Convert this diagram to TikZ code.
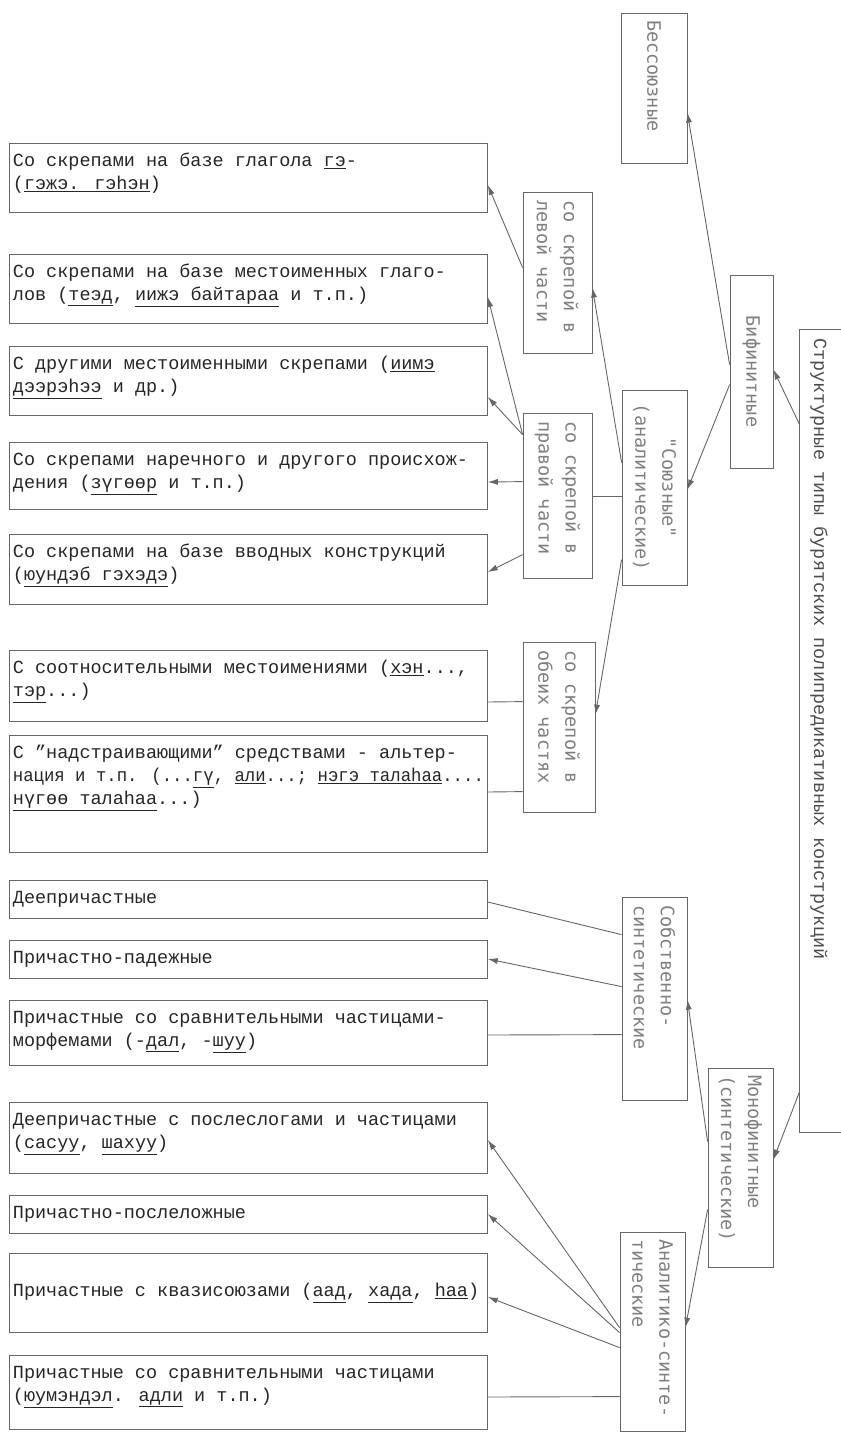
\documentclass[tikz,border=0pt]{standalone}
\usepackage{fontspec}
\usepackage{graphicx}
\setmainfont{Liberation Mono}
\newfontfamily\vertfont{DejaVu Sans Mono}
\usetikzlibrary{arrows.meta}

\definecolor{linec}{gray}{0.40}
\definecolor{txtc}{gray}{0.15}
\definecolor{vtxtc}{gray}{0.50}
\definecolor{titlec}{gray}{0.30}

% underlined Buryat words
\newcommand{\bur}[1]{\underline{#1}}
% text of a left box, set from the top
\newcommand{\lcell}[2]{\parbox[c][#1][t]{471pt}{\raggedright\vspace{7pt}\strut #2}}
% text of an upright box, turned to read downwards
\newcommand{\vcell}[2]{\rotatebox{-90}{\parbox{#1}{\raggedright #2}}}
\newcommand{\vcellc}[2]{\rotatebox{-90}{\parbox{#1}{\centering #2}}}

\tikzset{
  lbox/.style={draw=linec, line width=0.8pt, anchor=north west, inner xsep=3.5pt, inner ysep=0pt,
    text=txtc, font=\fontsize{18.5}{23}\selectfont},
  vbox/.style={draw=linec, line width=0.8pt, inner sep=0pt, text=vtxtc,
    font=\vertfont\fontsize{18.5}{27}\selectfont},
  arr/.style={draw=linec, line width=0.9pt, -{Latex[length=10pt,width=6pt]}},
  link/.style={draw=linec, line width=0.9pt}
}

\begin{document}
\begin{tikzpicture}[x=1pt, y=-1pt]
  \useasboundingbox (0,0) rectangle (841,1433);

  % title, its box is open on the right
  \node[vbox, draw=none, text=titlec, font=\fontsize{18.5}{23}\selectfont,
    minimum width=41pt, minimum height=802pt] (title) at (819,731)
    {\vcell{786pt}{Структурные типы бурятских полипредикативных конструкций}};
  \draw[link] ([xshift=3pt]title.north east) -- ([xshift=1.5pt]title.north west) -- ([xshift=1.5pt]title.south west) -- ([xshift=3pt]title.south east);

  % upright boxes
  \node[vbox, minimum width=43pt, minimum height=193pt] (bifin) at (751.5,371.5) {\vcellc{180pt}{Бифинитные}};
  \node[vbox, minimum width=65pt, minimum height=199pt] (monofin) at (740.5,1167.5) {\vcell{185pt}{Монофинитные\\(синтетические)}};
  \node[vbox, minimum width=66pt, minimum height=150pt] (bessoyuz) at (654,88) {\vcell{136pt}{Бессоюзные}};
  \node[vbox, minimum width=65pt, minimum height=195pt] (soyuz) at (654.5,487.5) {\vcellc{180pt}{"Союзные"\\(аналитические)}};
  \node[vbox, minimum width=65pt, minimum height=203pt] (sobstv) at (654.5,998.5) {\vcell{187pt}{Собственно-\\синтетические}};
  \node[vbox, minimum width=65pt, minimum height=199pt] (analit) at (652.5,1331.5) {\vcell{185pt}{Аналитико-синте-\\тические}};
  \node[vbox, minimum width=69pt, minimum height=161pt] (levoj) at (557.5,272.5) {\vcell{145pt}{со скрепой в\\левой части}};
  \node[vbox, minimum width=69pt, minimum height=165pt] (pravoj) at (557.5,495.5) {\vcell{149pt}{со скрепой в\\правой части}};
  \node[vbox, minimum width=72pt, minimum height=170pt] (obeih) at (559,727) {\vcell{154pt}{со скрепой в\\обеих частях}};

  % left boxes
  \node[lbox] (s1) at (9,143) {\lcell{69pt}{Со скрепами на базе глагола \bur{гэ}-\\(\bur{гэжэ. гэһэн})}};
  \node[lbox] (s2) at (9,254) {\lcell{69pt}{Со скрепами на базе местоименных глаго-\\лов (\bur{теэд}, \bur{иижэ байтараа} и т.п.)}};
  \node[lbox] (s3) at (9,346) {\lcell{69pt}{С другими местоименными скрепами (\bur{иимэ}\\\bur{дээрэһээ} и др.)}};
  \node[lbox] (s4) at (9,442) {\lcell{67pt}{Со скрепами наречного и другого происхож-\\дения (\bur{зүгөөр} и т.п.)}};
  \node[lbox] (s5) at (9,534) {\lcell{70pt}{Со скрепами на базе вводных конструкций\\(\bur{юундэб гэхэдэ})}};
  \node[lbox] (s6) at (9,650) {\lcell{71pt}{С соотносительными местоимениями (\bur{хэн}...,\\\bur{тэр}...)}};
  \node[lbox] (s7) at (9,735) {\lcell{117pt}{С "надстраивающими" средствами - альтер-\\\resizebox{\linewidth}{\height}{нация и т.п. (...\bur{гү}, \bur{али}...; \bur{нэгэ талаһаа}....}\\\bur{нүгөө талаһаа}...)}};
  \node[lbox] (d1) at (9,880) {\lcell{38pt}{Деепричастные}};
  \node[lbox] (d2) at (9,940) {\lcell{38pt}{Причастно-падежные}};
  \node[lbox] (d3) at (9,1000) {\lcell{65pt}{Причастные со сравнительными частицами-\\морфемами (-\bur{дал}, -\bur{шуу})}};
  \node[lbox] (a1) at (9,1102) {\lcell{71pt}{Деепричастные с послеслогами и частицами\\(\bur{сасуу}, \bur{шахуу})}};
  \node[lbox] (a2) at (9,1195) {\lcell{38pt}{Причастно-послеложные}};
  \node[lbox, minimum height=79pt] (a3) at (9,1253) {\parbox{471pt}{Причастные с квазисоюзами (\bur{аад}, \bur{хада}, \bur{һаа})}};
  \node[lbox] (a4) at (9,1355) {\lcell{74pt}{Причастные со сравнительными частицами\\(\bur{юумэндэл}. \bur{адли} и т.п.)}};

  % connectors
  \draw[arr] ([xshift=1.5pt,yshift=-95pt]title.north west) -- ([yshift=-95pt]bifin.north east);
  \draw[arr] ([xshift=1.5pt,yshift=-762pt]title.north west) -- ([yshift=-92pt]monofin.north east);
  \draw[arr] ([yshift=-90pt]bifin.north west) -- ([yshift=-100pt]bessoyuz.north east);
  \draw[arr] ([yshift=-110pt]bifin.north west) -- ([yshift=-100pt]soyuz.north east);
  \draw[arr] ([yshift=-73pt]soyuz.north west) -- ([yshift=-96pt]levoj.north east);
  \draw[link] ([yshift=-107pt]soyuz.north west) -- ([yshift=-84pt]pravoj.north east);
  \draw[arr] ([yshift=-170pt]soyuz.north west) -- ([yshift=-73pt]obeih.north east);
  \draw[arr] ([yshift=-76pt]levoj.north west) -- ([yshift=-42pt]s1.north east);
  \draw[arr] ([yshift=-22pt]pravoj.north west) -- ([yshift=-43pt]s2.north east);
  \draw[arr] ([yshift=-22pt]pravoj.north west) -- ([yshift=-51pt]s3.north east);
  \draw[arr] ([yshift=-69pt]pravoj.north west) -- ([yshift=-40pt]s4.north east);
  \draw[arr] ([yshift=-142pt]pravoj.north west) -- ([yshift=-38pt]s5.north east);
  \draw[link] ([yshift=-60pt]obeih.north west) -- ([yshift=-52pt]s6.north east);
  \draw[link] ([yshift=-150pt]obeih.north west) -- ([yshift=-57pt]s7.north east);
  \draw[arr] ([yshift=-74pt]monofin.north west) -- ([yshift=-103pt]sobstv.north east);
  \draw[arr] ([yshift=-142pt]monofin.north west) -- ([yshift=-96pt]analit.north east);
  \draw[link] ([yshift=-38pt]sobstv.north west) -- ([yshift=-22pt]d1.north east);
  \draw[arr] ([yshift=-90pt]sobstv.north west) -- ([yshift=-19pt]d2.north east);
  \draw[link] ([yshift=-138pt]sobstv.north west) -- ([yshift=-35pt]d3.north east);
  \draw[arr] ([yshift=-96pt]analit.north west) -- ([yshift=-38pt]a1.north east);
  \draw[arr] ([yshift=-101pt]analit.north west) -- ([yshift=-19pt]a2.north east);
  \draw[arr] ([yshift=-116pt]analit.north west) -- ([yshift=-44pt]a3.north east);
  \draw[link] ([yshift=-165pt]analit.north west) -- ([yshift=-42pt]a4.north east);
\end{tikzpicture}
\end{document}
